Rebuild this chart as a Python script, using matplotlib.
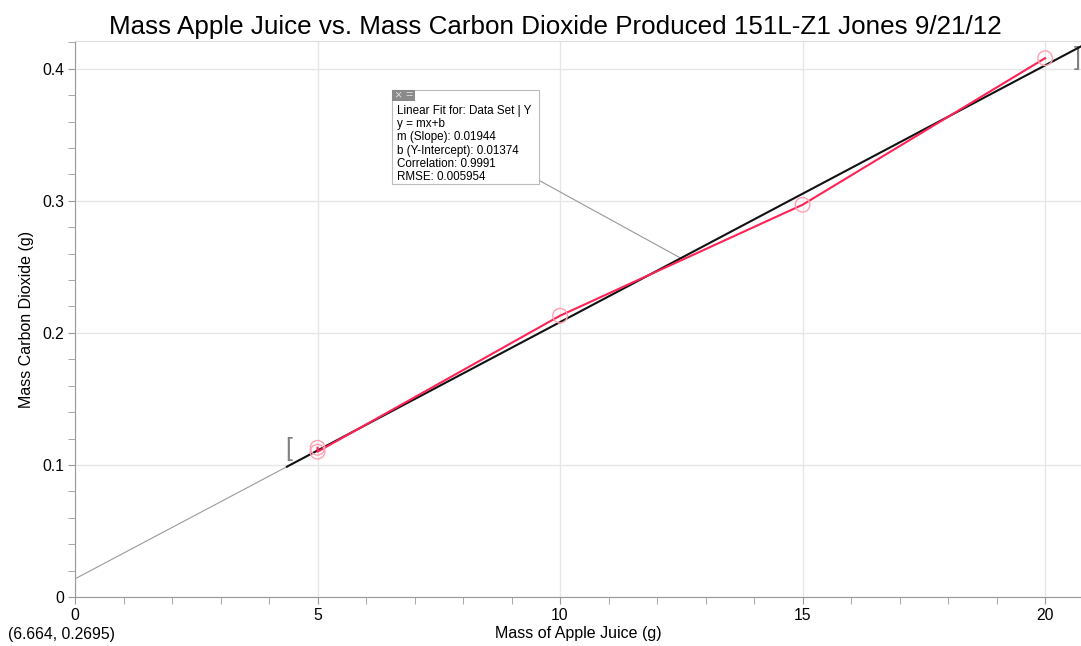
import matplotlib
matplotlib.use("Agg")
import matplotlib.pyplot as plt
from matplotlib.ticker import MultipleLocator
from matplotlib.patches import Rectangle
import numpy as np

plt.rcParams['font.family'] = ['Liberation Sans', 'DejaVu Sans']

# ---- data ----
juice_mass = [5, 5, 10, 15, 20]
co2_mass = [0.113, 0.110, 0.213, 0.297, 0.408]
fit_slope = 0.01944
fit_intercept = 0.01374
fit_lines = ["Linear Fit for: Data Set | Y",
             "y = mx+b",
             "m (Slope): 0.01944",
             "b (Y-Intercept): 0.01374",
             "Correlation: 0.9991",
             "RMSE: 0.005954"]
title = "Mass Apple Juice vs. Mass Carbon Dioxide Produced 151L-Z1 Jones 9/21/12"
xlabel = "Mass of Apple Juice (g)"
ylabel = "Mass Carbon Dioxide (g)"
cursor_text = "(6.664, 0.2695)"

W, H = 1081, 646
fig = plt.figure(figsize=(W/100, H/100), dpi=100)
ax = fig.add_axes([75/W, 49/H, 1 - 75/W, 556/H])
xmin, xmax = 0, 20.74
ymin, ymax = 0, 0.421
ax.set_xlim(xmin, xmax)
ax.set_ylim(ymin, ymax)

ax.xaxis.set_major_locator(MultipleLocator(5))
ax.xaxis.set_minor_locator(MultipleLocator(1))
ax.yaxis.set_major_locator(MultipleLocator(0.1))
ax.yaxis.set_minor_locator(MultipleLocator(0.02))
ax.xaxis.set_major_formatter(lambda v, p: f"{v:g}")
ax.yaxis.set_major_formatter(lambda v, p: f"{v:g}")
ax.grid(True, which='major', color='#e6e6e6', lw=1)
ax.set_axisbelow(True)
ax.spines['right'].set_visible(False)
ax.spines['top'].set_color('#dddddd')
ax.spines['left'].set_color('#999999')
ax.spines['bottom'].set_color('#999999')
ax.tick_params(which='both', direction='out', color='#999999', labelsize=11.3, pad=3)
ax.tick_params(which='major', length=5)
ax.tick_params(which='minor', length=5)

# fit line: thin extension and thick segment over data range
x_start = 4.37
xe = np.array([0, x_start])
ax.plot(xe, fit_slope * xe + fit_intercept, color='#9a9a9a', lw=0.8, zorder=3)
xf = np.array([x_start, xmax])
ax.plot(xf, fit_slope * xf + fit_intercept, color='#111111', lw=1.5, zorder=4)

# data
ax.plot(juice_mass, co2_mass, color='#ff2255', lw=1.5, zorder=5)
ax.scatter(juice_mass, co2_mass, s=110, facecolors='none', edgecolors='#ffa0b0', lw=1, zorder=6)

# range brackets
ax.text(4.41, 0.112, "[", fontsize=18, color='#808080', ha='center', va='center')
ax.text(20.66, 0.408, "]", fontsize=18, color='#808080', ha='center', va='center')

# leader line from annotation box to fit line
ax.plot([9.59, 12.49], [0.315, fit_slope * 12.49 + fit_intercept], color='#999999', lw=0.8, zorder=3)

fig.text(555/W, (H - 34)/H, title, fontsize=18.7, ha='center', va='baseline')
ax.set_xlabel(xlabel, fontsize=11.5, labelpad=2)
ax.set_ylabel(ylabel, fontsize=11.5, labelpad=6)

# annotation box
bx0, bx1 = 392/W, 539/W
by1, by0 = (H - 90)/H, (H - 184)/H
fig.patches.append(Rectangle((bx0, by0), bx1 - bx0, by1 - by0, transform=fig.transFigure,
                             facecolor='white', edgecolor='#bbbbbb', lw=0.8, zorder=10))
fig.patches.append(Rectangle((bx0, by1 - 11/H), 23/W, 11/H, transform=fig.transFigure,
                             facecolor='#8a8a8a', edgecolor='none', zorder=11))
fig.text(bx0 + 5.5/W, by1 - 5.5/H, "×", fontsize=9, color='#dddddd', ha='center', va='center', zorder=12)
fig.text(bx0 + 17/W, by1 - 5.5/H, "=", fontsize=9, color='#dddddd', ha='center', va='center', zorder=12)
for i, line in enumerate(fit_lines):
    fig.text(397/W, (H - 111 - 13.2 * i)/H, line, fontsize=8.4, ha='left', va='center', zorder=12)

fig.text(8/W, (H - 635)/H, cursor_text, fontsize=11.3, ha='left', va='center')

fig.savefig("out.png", dpi=100)
